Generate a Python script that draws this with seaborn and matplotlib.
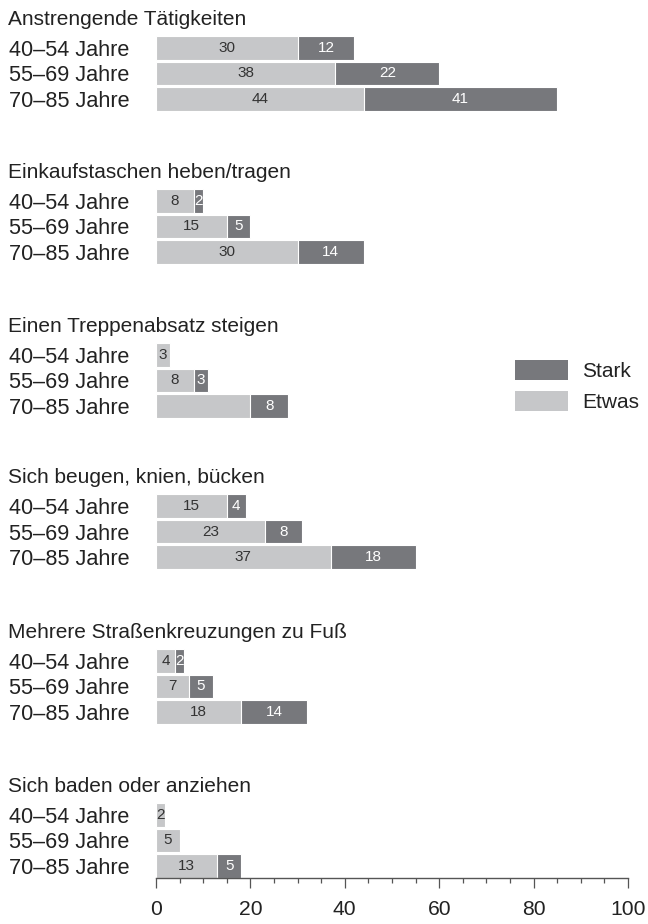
import matplotlib
matplotlib.use("Agg")
import matplotlib.pyplot as plt
from matplotlib.patches import Patch
from matplotlib.ticker import MultipleLocator
import seaborn as sns
import pandas as pd

# ---- data ----
titles = [
    "Anstrengende Tätigkeiten",
    "Einkaufstaschen heben/tragen",
    "Einen Treppenabsatz steigen",
    "Sich beugen, knien, bücken",
    "Mehrere Straßenkreuzungen zu Fuß",
    "Sich baden oder anziehen",
]
ages = ["40–54 Jahre", "55–69 Jahre", "70–85 Jahre"]
etwas = [
    [30, 38, 44],
    [8, 15, 30],
    [3, 8, 20],
    [15, 23, 37],
    [4, 7, 18],
    [2, 5, 13],
]
stark = [
    [12, 22, 41],
    [2, 5, 14],
    [0, 3, 8],
    [4, 8, 18],
    [2, 5, 14],
    [0, 0, 5],
]
# label shown for each Etwas segment (the reference omits one)
etwas_shown = [
    [True, True, True],
    [True, True, True],
    [True, True, False],
    [True, True, True],
    [True, True, True],
    [True, True, True],
]
xticks = [0, 20, 40, 60, 80, 100]

# ---- style ----
sns.set_style("white")
plt.rcParams["font.family"] = ["Liberation Sans", "DejaVu Sans"]
DARK = "#77787c"
LIGHT = "#c6c7c9"
TEXT = "#222222"

W, H = 648, 924
fig = plt.figure(figsize=(W / 100, H / 100), dpi=100)

bar_tops = [36, 189, 343, 494, 649, 803]
ax_left, ax_w, ax_h = 156, 472, 75
bw = 0.94

for g in range(len(titles)):
    top = bar_tops[g]
    ax = fig.add_axes([ax_left / W, 1 - (top + ax_h) / H, ax_w / W, ax_h / H])
    df = pd.DataFrame({
        "age": ages,
        "etwas": etwas[g],
        "stark": stark[g],
    })
    df["total"] = df["etwas"] + df["stark"]
    sns.barplot(data=df, y="age", x="total", orient="h", color=DARK, saturation=1,
                width=bw, edgecolor="white", linewidth=0.8, ax=ax)
    sns.barplot(data=df, y="age", x="etwas", orient="h", color=LIGHT, saturation=1,
                width=bw, edgecolor="white", linewidth=0.8, ax=ax)
    ax.set_xlim(0, 100)
    ax.set_ylim(2 + bw / 2, -bw / 2)
    ax.set_xlabel("")
    ax.set_ylabel("")
    for s in ["top", "right", "left", "bottom"]:
        ax.spines[s].set_visible(False)
    ax.tick_params(axis="y", length=0, pad=19, labelsize=15.6, labelcolor=TEXT)
    # segment labels
    for i in range(3):
        e, s_ = etwas[g][i], stark[g][i]
        if e > 0 and etwas_shown[g][i]:
            ax.text(e / 2, i, str(e), ha="center", va="center", fontsize=11, color="#333333")
        if s_ > 0:
            ax.text(e + s_ / 2, i, str(s_), ha="center", va="center", fontsize=11, color="white")
    # group title
    fig.text(8 / W, 1 - (top - 11) / H, titles[g], ha="left", va="baseline",
             fontsize=15, color=TEXT)
    if g < len(titles) - 1:
        ax.set_xticks([])
    else:
        ax.spines["bottom"].set_visible(True)
        ax.spines["bottom"].set_color("#555555")
        ax.spines["bottom"].set_linewidth(1.0)
        ax.set_xticks(xticks)
        ax.xaxis.set_minor_locator(MultipleLocator(5))
        ax.tick_params(axis="x", which="major", bottom=True, length=7.5, width=0.9,
                       color="#555555", pad=8, labelsize=15.2, labelcolor=TEXT)
        ax.tick_params(axis="x", which="minor", bottom=True, length=3.8, width=0.9,
                       color="#555555")

handles = [Patch(facecolor=DARK, edgecolor="none"), Patch(facecolor=LIGHT, edgecolor="none")]
fs_px = 15 * 100 / 72
fig.legend(handles=handles, labels=["Stark", "Etwas"], loc="upper left",
           bbox_to_anchor=(515 / W, 1 - 360 / H), frameon=False, fontsize=15,
           handlelength=53 / fs_px, handleheight=23 / fs_px,
           labelspacing=(33 - 23) / fs_px, handletextpad=14 / fs_px,
           borderpad=0, borderaxespad=0, labelcolor=TEXT)

fig.savefig("out.png", dpi=100)
